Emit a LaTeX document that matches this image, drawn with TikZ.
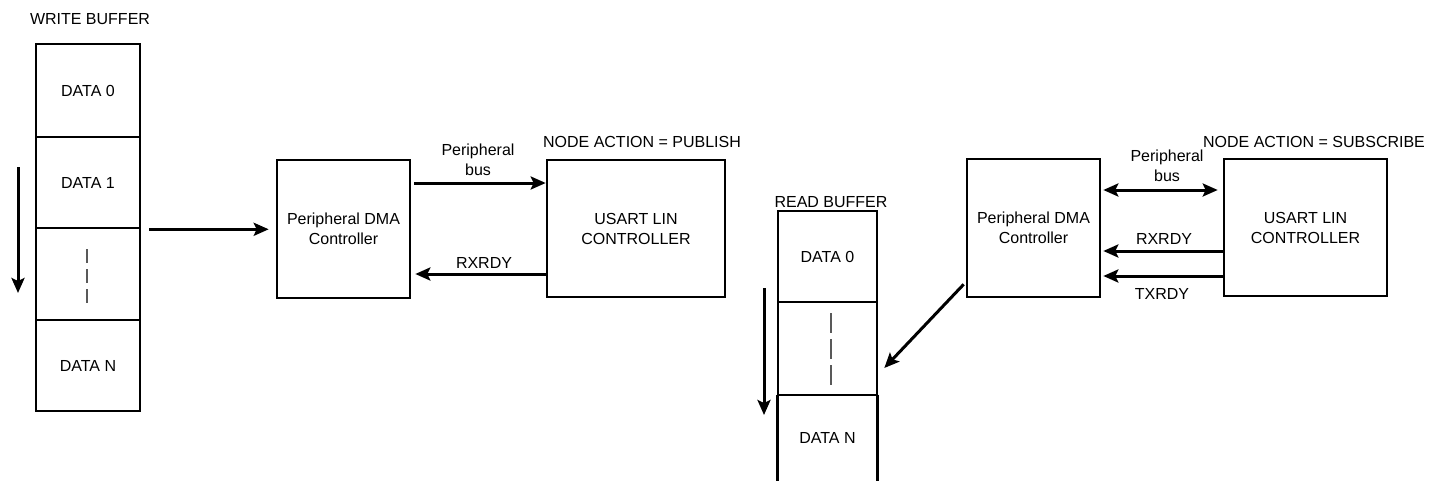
\documentclass[tikz,border=0pt]{standalone}
\usepackage{fontspec}
\setmainfont{Liberation Sans}
\usetikzlibrary{arrows.meta}
\begin{document}
\begin{tikzpicture}[x=0.5pt,y=-0.5pt,
  every node/.style={font=\fontsize{8}{10}\selectfont, align=center},
  box/.style={draw, line width=1.3pt, inner sep=0pt},
  cell/.style={box, minimum width=#1},
  arr/.style={line width=1.5pt, -{Stealth[length=7.5pt,width=6.5pt,inset=1.5pt]}},
  darr/.style={line width=1.5pt, {Stealth[length=7.5pt,width=6.5pt,inset=1.5pt]}-{Stealth[length=7.5pt,width=6.5pt,inset=1.5pt]}},
  gapline/.style={gray!70!black, line width=0.6pt}
]
\useasboundingbox (0,0) rectangle (1443,481);

% ---------- write buffer ----------
\node at (90,19) {WRITE BUFFER};
\node[cell=52pt, minimum height=46.5pt] (wb0) at (88,90.5) {DATA 0};
\node[cell=52pt, minimum height=45.5pt] (wb1) at (88,182.5) {DATA 1};
\node[cell=52pt, minimum height=46pt]   (wb2) at (88,274) {};
\node[cell=52pt, minimum height=45.5pt] (wb3) at (88,365.5) {DATA N};
\draw[gapline, dash pattern=on 7pt off 3pt] (87,249) -- (87,303);
\draw[arr] (18,167) -- (18,293);

% ---------- publish side ----------
\node[box, minimum width=66.5pt, minimum height=69pt] (dma1) at (343.5,229) {Peripheral DMA\\Controller};
\node[box, minimum width=89pt, minimum height=68.5pt] (us1) at (636,228.5) {USART LIN\\CONTROLLER};
\node at (642,142) {NODE ACTION = PUBLISH};
\draw[arr] ([xshift=4pt]wb1.south east) -- ([xshift=-3.5pt]dma1.west |- wb1.south east);
\draw[arr] ([xshift=1.5pt]dma1.east |- 0,183) -- (us1.west |- 0,183);
\node at (478,160) {Peripheral\\bus};
\draw[arr] ([xshift=1pt]us1.west |- 0,274) -- ([xshift=2pt]dma1.east |- 0,274);
\node at (484,263) {RXRDY};

% ---------- read buffer ----------
\node at (831,202) {READ BUFFER};
\node[cell=49.5pt, minimum height=45.5pt] (rb0) at (827.5,256.5) {DATA 0};
\node[cell=49.5pt, minimum height=46.5pt] (rb1) at (827.5,348.5) {};
\node[inner sep=0pt, minimum width=49.5pt, minimum height=43pt] (rb2) at (827.5,438) {DATA N};
\draw[line width=1.3pt] (rb2.north west) -- (rb2.south west)
                        (rb2.north east) -- (rb2.south east);
\draw[gapline, dash pattern=on 10pt off 3pt] (831,313) -- (831,388);
\draw[arr] (764,288) -- (764,415);

% ---------- subscribe side ----------
\node[box, minimum width=66.5pt, minimum height=69pt] (dma2) at (1033.5,228) {Peripheral DMA\\Controller};
\node[box, minimum width=81.5pt, minimum height=68.5pt] (us2) at (1305.5,227.5) {USART LIN\\CONTROLLER};
\node at (1314,142) {NODE ACTION = SUBSCRIBE};
\draw[darr] ([xshift=1pt]dma2.east |- 0,190) -- ([xshift=-2.5pt]us2.west |- 0,190);
\node at (1167,166) {Peripheral\\bus};
\draw[arr] (us2.west |- 0,251) -- ([xshift=1pt]dma2.east |- 0,251);
\node at (1164,239) {RXRDY};
\draw[arr] (us2.west |- 0,276) -- ([xshift=1pt]dma2.east |- 0,276);
\node at (1162,294) {TXRDY};
\draw[arr] ([xshift=-1pt,yshift=7pt]dma2.south west) -- ([xshift=3pt,yshift=-9.75pt]rb1.east);
\end{tikzpicture}
\end{document}
